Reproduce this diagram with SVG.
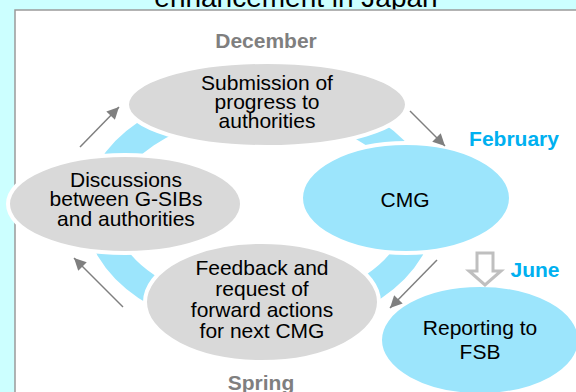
<svg xmlns="http://www.w3.org/2000/svg" width="576" height="392" viewBox="0 0 576 392">
<defs>
<style>
.t{font-family:"Liberation Sans",Arial,sans-serif;font-size:21px;fill:#000;text-anchor:middle}
.lbl{font-family:"Liberation Sans",Arial,sans-serif;font-size:21px;font-weight:bold;text-anchor:middle}
.gray{fill:#7f7f7f}
.blue{fill:#00b0f0}
.eg{fill:#d9d9d9;stroke:#fff;stroke-width:4}
.eb{fill:#9ce5fc;stroke:#fff;stroke-width:4}
.conn{stroke:#7f7f7f;stroke-width:1.5;fill:none;marker-end:url(#ah)}
</style>
<marker id="ah" viewBox="0 0 10 10" refX="10" refY="5" markerWidth="14" markerHeight="12" markerUnits="userSpaceOnUse" orient="auto">
<path d="M0,0 L10,5 L0,10 z" fill="#7f7f7f"/>
</marker>
</defs>
<rect x="0" y="0" width="576" height="392" fill="#ccffff"/>
<text x="296" y="6.5" style="font-family:'Liberation Sans',Arial,sans-serif;font-size:28px;text-anchor:middle" fill="#000">enhancement in Japan</text>
<rect x="15" y="10" width="580" height="400" fill="#fff" stroke="#9a9a9a" stroke-width="1.5"/>
<ellipse cx="260" cy="210" rx="161" ry="108" fill="none" stroke="#9ce5fc" stroke-width="28"/>
<g id="submission"><ellipse class="eg" cx="267" cy="104.5" rx="140" ry="42.5"/>
<text class="t" x="267" y="90">Submission of</text><text class="t" x="267" y="109">progress to</text><text class="t" x="267" y="128">authorities</text></g>
<g id="discussions"><ellipse class="eg" cx="125" cy="204" rx="117" ry="49"/>
<text class="t" x="126" y="187">Discussions</text><text class="t" x="126" y="206">between G-SIBs</text><text class="t" x="126" y="226">and authorities</text></g>
<g id="cmg"><ellipse class="eb" cx="406" cy="198" rx="105" ry="55"/>
<text class="t" x="405" y="207">CMG</text></g>
<g id="feedback"><ellipse class="eg" cx="262" cy="302" rx="117" ry="60"/>
<text class="t" x="262" y="275">Feedback and</text><text class="t" x="262" y="296">request of</text><text class="t" x="262" y="317">forward actions</text><text class="t" x="262" y="338">for next CMG</text></g>
<g id="reporting"><ellipse class="eb" cx="480" cy="340" rx="100" ry="55"/>
<text class="t" x="480" y="335">Reporting to</text><text class="t" x="480" y="359">FSB</text></g>
<g id="labels">
<text class="lbl gray" x="266" y="48">December</text>
<text class="lbl blue" x="514" y="146">February</text>
<text class="lbl blue" x="535" y="277">June</text>
<text class="lbl gray" x="261" y="390">Spring</text>
</g>
<g id="connectors">
<line class="conn" x1="80" y1="147" x2="119" y2="107"/>
<line class="conn" x1="410" y1="111" x2="445" y2="146"/>
<line class="conn" x1="437" y1="260" x2="390" y2="308"/>
<line class="conn" x1="123" y1="307" x2="74" y2="258"/>
<polygon points="477,253 493,253 493,271 501,271 485,285 469,271 477,271" fill="#fff" stroke="#bfbfbf" stroke-width="3"/>
</g>
</svg>
